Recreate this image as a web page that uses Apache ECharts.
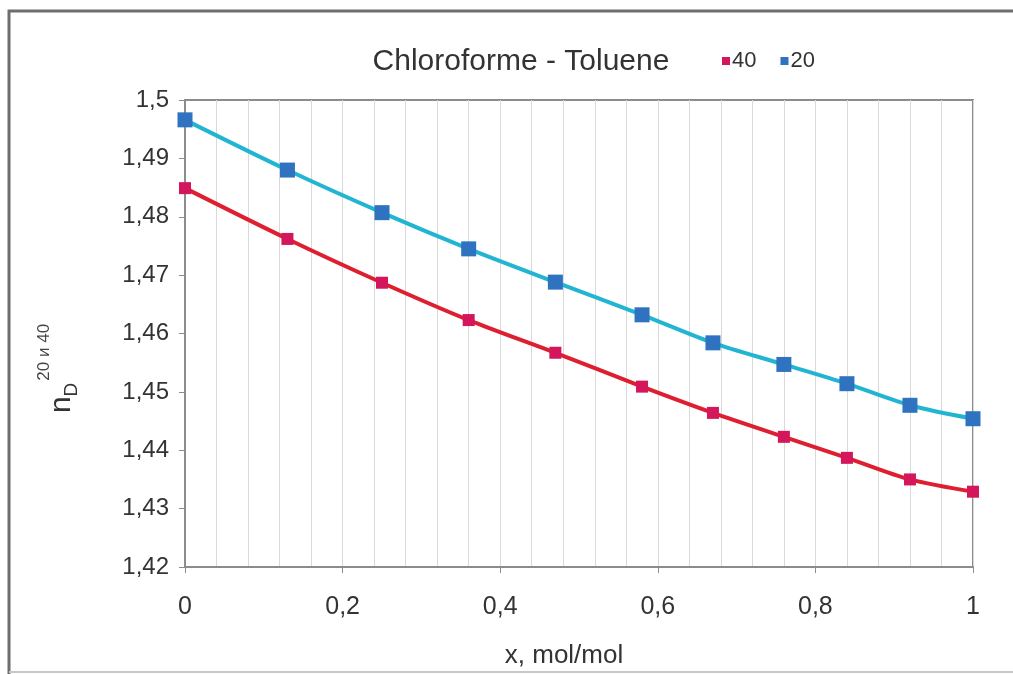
<!DOCTYPE html>
<html>
<head>
<meta charset="utf-8">
<script src="https://cdn.jsdelivr.net/npm/echarts@6/dist/echarts.min.js"></script>
<style>
html,body{margin:0;padding:0;background:#fff;}
#c{width:1013px;height:674px;}
</style>
</head>
<body>
<div id="c"></div>
<script>
const xValues = [0, 0.13, 0.25, 0.36, 0.47, 0.58, 0.67, 0.76, 0.84, 0.92, 1];
const series40 = [1.4849, 1.4762, 1.4687, 1.4623, 1.4567, 1.4509, 1.4464, 1.4423, 1.4387, 1.4350, 1.4329];
const series20 = [1.4966, 1.4880, 1.4807, 1.4745, 1.4688, 1.4632, 1.4584, 1.4547, 1.4514, 1.4477, 1.4454];
const seriesNames = ['40', '20'];
const titleText = 'Chloroforme - Toluene';
const xAxisName = 'x, mol/mol';

const FONT = "'Liberation Sans', Arial, sans-serif";
const fmt = v => String(+v.toFixed(2)).replace('.', ',');

const chart = echarts.init(document.getElementById('c'), null, {renderer: 'canvas'});
chart.setOption({
  backgroundColor: '#fff',
  animation: false,
  title: {
    text: titleText,
    left: 516, top: 42, textAlign: 'center',
    textStyle: {fontFamily: FONT, fontSize: 30, fontWeight: 'normal', color: '#333'}
  },
  legend: {
    data: seriesNames.map(n => ({name: n, icon: 'rect'})),
    left: 717, top: 45,
    itemWidth: 8, itemHeight: 8, itemGap: 24,
    textStyle: {fontFamily: FONT, fontSize: 22, color: '#333', padding: [0, 0, 0, -3]}
  },
  graphic: [
    {type: 'polyline', shape: {points: [[9, 674], [9, 11], [1013, 11]]}, style: {stroke: '#6e6e6e', lineWidth: 3, fill: null}},
    {type: 'line', shape: {x1: 9, y1: 672, x2: 1013, y2: 672}, style: {stroke: '#c8c8c8', lineWidth: 2}}
  ],
  grid: {
    left: 185, right: 40, top: 100, bottom: 107,
    show: true, borderColor: '#8c8c8c', borderWidth: 2, backgroundColor: 'transparent'
  },
  xAxis: {
    type: 'value', min: 0, max: 1, interval: 0.2,
    name: xAxisName, nameLocation: 'middle', nameGap: 76,
    nameTextStyle: {fontFamily: FONT, fontSize: 26, color: '#333', padding: [0, 30, 0, 0]},
    axisLine: {show: true, lineStyle: {color: '#8c8c8c', width: 2}},
    axisTick: {show: true, length: 6, lineStyle: {color: '#8c8c8c'}},
    axisLabel: {fontFamily: FONT, fontSize: 25, color: '#333', margin: 28, formatter: fmt},
    splitLine: {show: true, lineStyle: {color: '#d9d9d9', width: 1}},
    minorTick: {show: false, splitNumber: 5},
    minorSplitLine: {show: true, lineStyle: {color: '#d9d9d9', width: 1}}
  },
  yAxis: {
    type: 'value', min: 1.42, max: 1.5, interval: 0.01,
    name: '{n|n}{d|D}{s|20 и 40}',
    nameLocation: 'middle', nameGap: 108, nameRotate: 90,
    nameTextStyle: {
      padding: [0, 70, 0, 0],
      rich: {
        n: {fontFamily: FONT, fontSize: 30, color: '#333', verticalAlign: 'bottom'},
        d: {fontFamily: FONT, fontSize: 19, color: '#333', verticalAlign: 'bottom', padding: [0, 0, -4, 0]},
        s: {fontFamily: FONT, fontSize: 17, color: '#444', padding: [0, 0, 24, 2], verticalAlign: 'bottom'}
      }
    },
    axisLine: {show: true, lineStyle: {color: '#8c8c8c', width: 2}},
    axisTick: {show: true, length: 6, lineStyle: {color: '#8c8c8c'}},
    axisLabel: {fontFamily: FONT, fontSize: 24, color: '#333', margin: 16, formatter: fmt},
    splitLine: {show: false}
  },
  series: [
    {
      name: seriesNames[0], type: 'line', smooth: 0.3,
      data: xValues.map((x, i) => [x, series40[i]]),
      symbol: 'rect', symbolSize: 12,
      itemStyle: {color: '#d4165c'},
      lineStyle: {color: '#dd1f30', width: 4},
      z: 3
    },
    {
      name: seriesNames[1], type: 'line', smooth: 0.3,
      data: xValues.map((x, i) => [x, series20[i]]),
      symbol: 'rect', symbolSize: 15,
      itemStyle: {color: '#2e72c0'},
      lineStyle: {color: '#22b5d2', width: 4},
      z: 4
    }
  ]
});
</script>
</body>
</html>
